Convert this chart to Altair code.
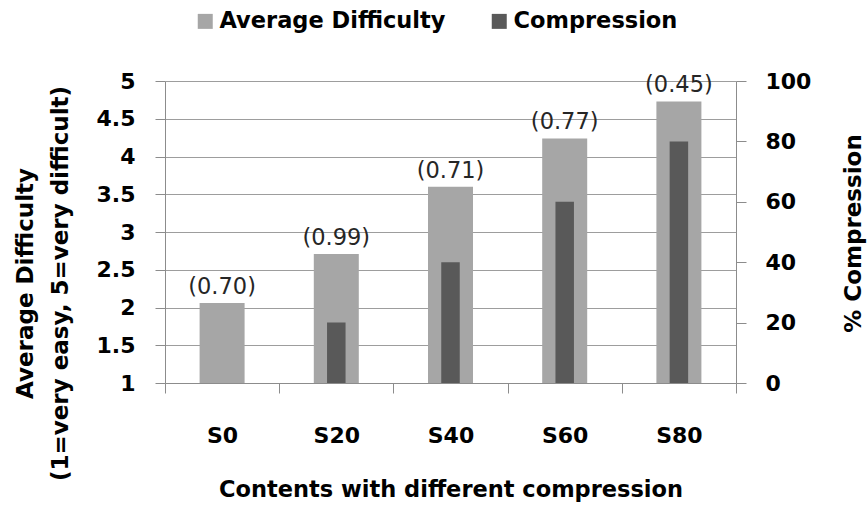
import altair as alt
import pandas as pd

# Content versions and their measured values
categories = ["S0", "S20", "S40", "S60", "S80"]
avg_difficulty = [2.06, 2.71, 3.60, 4.24, 4.73]
compression_pct = [0, 20, 40, 60, 80]
difficulty_sd = ["(0.70)", "(0.99)", "(0.71)", "(0.77)", "(0.45)"]

series_names = ["Average Difficulty", "Compression"]
difficulty_ticks = [1, 1.5, 2, 2.5, 3, 3.5, 4, 4.5, 5]
compression_ticks = [0, 20, 40, 60, 80, 100]

LIGHT = "#a6a6a6"
DARK = "#595959"
GRID = "#9d9d9d"
AXIS = "#8c8c8c"
FONT = "DejaVu Sans"

df = pd.DataFrame({
    "content": categories,
    "difficulty": avg_difficulty,
    "compression": compression_pct,
    "sd": difficulty_sd,
})

base = alt.Chart(df)

x_enc = alt.X(
    "content:N",
    sort=categories,
    title="Contents with different compression",
    scale=alt.Scale(paddingInner=0, paddingOuter=0),
    axis=alt.Axis(
        tickBand="extent",
        labelAngle=0,
        labelFont=FONT,
        labelFontSize=22,
        labelFontWeight="bold",
        labelColor="#000000",
        labelBaseline="alphabetic",
        labelPadding=49,
        tickSize=10,
        tickColor=AXIS,
        domainColor=AXIS,
        grid=False,
        titleFont=FONT,
        titleFontSize=22.5,
        titleFontWeight="bold",
        titleColor="#000000",
        titleBaseline="alphabetic",
        titleY=113,
    ),
)

color_scale = alt.Scale(domain=series_names, range=[LIGHT, DARK])
legend = alt.Legend(
    title=None,
    orient="none",
    direction="horizontal",
    legendX=29,
    legendY=-71,
    padding=0,
    symbolType="square",
    symbolSize=225,
    symbolStrokeWidth=0,
    symbolOpacity=1,
    labelFont=FONT,
    labelFontSize=22.5,
    labelFontWeight="bold",
    labelColor="#000000",
    labelOffset=3,
    labelLimit=400,
    columnPadding=42,
)
color_enc = alt.Color("series:N", scale=color_scale, legend=legend)

difficulty_y = alt.Y(
    "difficulty:Q",
    scale=alt.Scale(domain=[1, 5], zero=False, nice=False),
    axis=alt.Axis(
        orient="left",
        values=difficulty_ticks,
        format="~g",
        labelOverlap=False,
        grid=True,
        gridColor=GRID,
        gridWidth=1,
        tickSize=10,
        tickColor=AXIS,
        domainColor=AXIS,
        labelFont=FONT,
        labelFontSize=22,
        labelFontWeight="bold",
        labelColor="#000000",
        labelPadding=20,
        title=["Average Difficulty", "(1=very easy, 5=very difficult)"],
        titleFont=FONT,
        titleFontSize=23,
        titleFontWeight="bold",
        titleColor="#000000",
        titleAngle=270,
        titleAlign="center",
        titleBaseline="alphabetic",
        titleLineHeight=35,
        titleX=-133,
        titleY=202,
    ),
)

difficulty_bars = base.transform_calculate(
    series=f"'{series_names[0]}'"
).mark_bar(size=45).encode(
    x=x_enc,
    y=difficulty_y,
    y2=alt.datum(1),
    color=color_enc,
)

sd_labels = base.mark_text(
    font=FONT, fontSize=22.5, baseline="alphabetic", dy=-9, color="#262626"
).encode(
    x=x_enc,
    y=difficulty_y,
    text="sd:N",
)

compression_bars = base.transform_calculate(
    series=f"'{series_names[1]}'"
).mark_bar(size=18.5).encode(
    x=x_enc,
    y=alt.Y(
        "compression:Q",
        scale=alt.Scale(domain=[0, 100], nice=False),
        axis=alt.Axis(
            orient="right",
            values=compression_ticks,
            grid=False,
            tickSize=10,
            tickColor=AXIS,
            domainColor=AXIS,
            labelFont=FONT,
            labelFontSize=22,
            labelFontWeight="bold",
            labelColor="#000000",
            labelPadding=19,
            title="% Compression",
            titleFont=FONT,
            titleFontSize=23,
            titleFontWeight="bold",
            titleColor="#000000",
            titleAngle=270,
            titleAlign="center",
            titleBaseline="alphabetic",
            titleX=124,
            titleY=152,
        ),
    ),
    color=color_enc,
)

chart = (
    alt.layer(alt.layer(difficulty_bars, sd_labels), compression_bars)
    .resolve_scale(y="independent")
    .properties(
        width=571,
        height=302,
        autosize=alt.AutoSizeParams(type="none"),
        padding={"left": 165, "top": 81, "right": 131, "bottom": 123},
        background="#ffffff",
    )
    .configure_view(stroke=None)
)

chart.save("out.html", embed_options={"renderer": "svg", "actions": False})
